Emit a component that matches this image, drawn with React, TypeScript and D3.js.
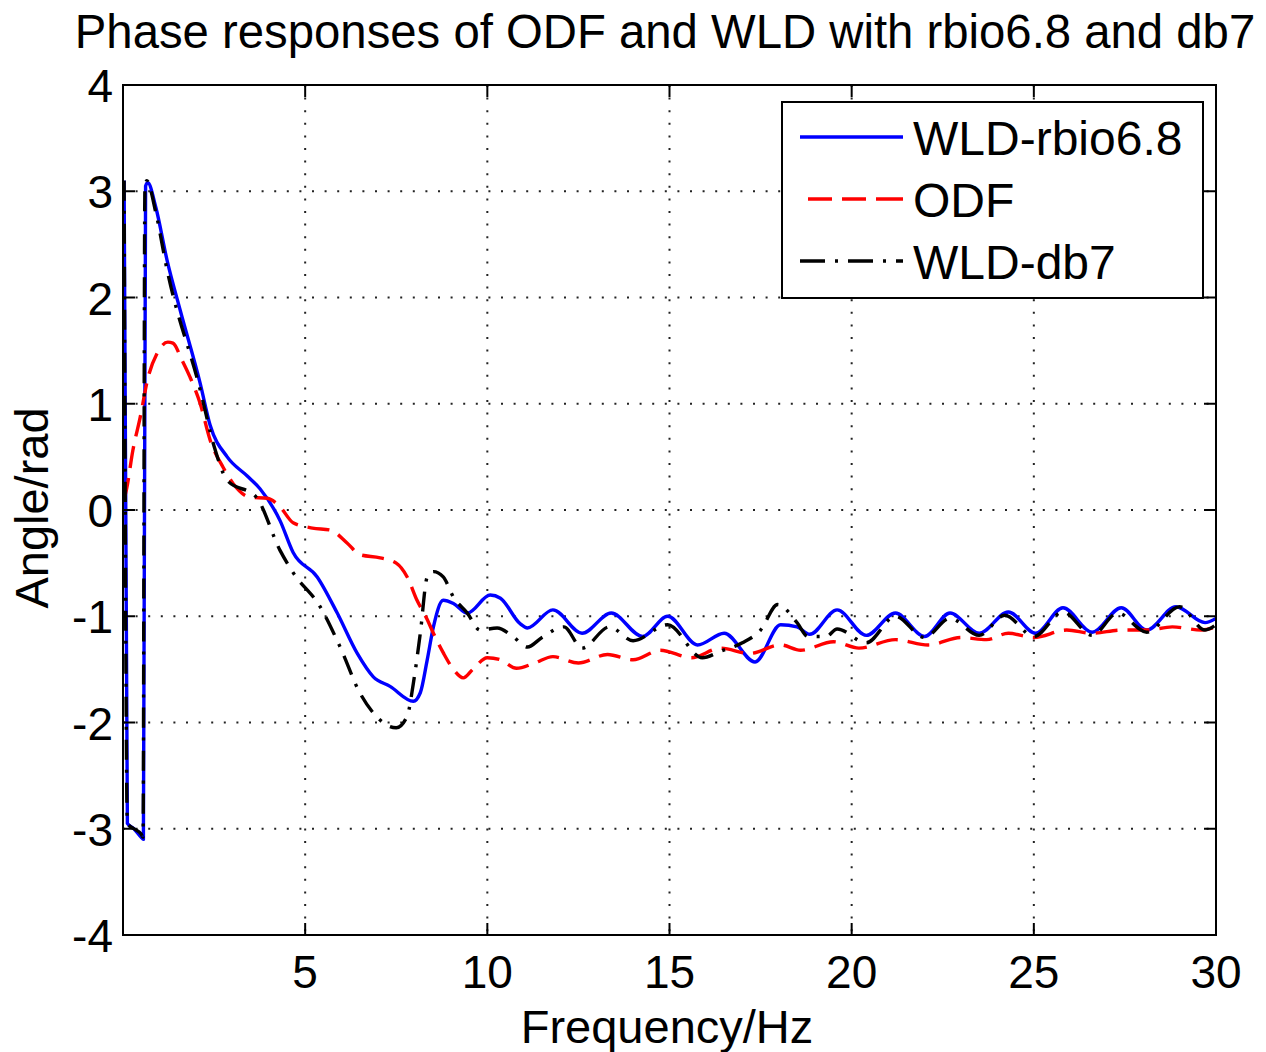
import React from "react";
import * as d3 from "d3";

const xTicks = [5, 10, 15, 20, 25, 30];
const yTicks = [-4, -3, -2, -1, 0, 1, 2, 3, 4];
const gridX = [5, 10, 15, 20, 25];
const gridY = [-3, -2, -1, 0, 1, 2, 3];

const titleText = "Phase responses of ODF and WLD with rbio6.8 and db7";
const xLabel = "Frequency/Hz";
const yLabel = "Angle/rad";

// [frequency, angle]
const wldRbio: [number, number][] = [
  [0.03, 3.1], [0.12, -2.95], [0.3, -3.0], [0.5, -3.08], [0.56, -3.1], [0.62, 3.05], [0.68, 3.08],
  [0.9, 2.85], [1.21, 2.35], [1.57, 1.88], [2.12, 1.19], [2.39, 0.8], [2.86, 0.5], [3.41, 0.32],
  [3.76, 0.2], [4.31, -0.1], [4.67, -0.4], [5.33, -0.63], [5.88, -0.97], [6.43, -1.35], [6.87, -1.57],
  [7.33, -1.66], [7.97, -1.8], [8.16, -1.72], [8.35, -1.41], [8.52, -1.1], [8.79, -0.85], [9.07, -0.88],
  [9.45, -0.97], [10.08, -0.8], [10.36, -0.83], [10.9, -1.07], [11.1, -1.11], [11.8, -0.94], [12.6, -1.16],
  [13.4, -0.97], [14.26, -1.19], [14.95, -1.0], [15.77, -1.27], [16.5, -1.16], [17.35, -1.43],
  [18.05, -1.08], [18.5, -1.1], [18.85, -1.17], [19.6, -0.94], [20.4, -1.18], [21.2, -0.97], [22.0, -1.19],
  [22.7, -0.97], [23.5, -1.16], [24.3, -0.96], [25.05, -1.16], [25.8, -0.92], [26.6, -1.15], [27.4, -0.92],
  [28.1, -1.13], [28.9, -0.91], [29.7, -1.06], [30, -1.02],
];

const odf: [number, number][] = [
  [0.03, 0.1], [0.1, 0.2], [0.27, 0.56], [0.47, 0.87], [0.69, 1.25], [0.93, 1.47], [1.23, 1.58],
  [1.37, 1.57], [1.62, 1.41], [1.84, 1.25], [2.12, 1.0], [2.39, 0.66], [2.75, 0.4], [3.02, 0.25],
  [3.49, 0.12], [3.96, 0.11], [4.31, 0.03], [4.67, -0.12], [5.2, -0.17], [5.7, -0.19], [6.15, -0.31],
  [6.5, -0.42], [7.06, -0.45], [7.5, -0.5], [7.8, -0.63], [8.07, -0.85], [8.35, -1.03], [8.52, -1.16],
  [8.8, -1.35], [9.07, -1.5], [9.34, -1.58], [9.6, -1.5], [10.0, -1.39], [10.36, -1.41], [10.8, -1.49],
  [11.3, -1.44], [11.8, -1.38], [12.5, -1.44], [13.3, -1.36], [14.0, -1.41], [14.75, -1.32], [15.6, -1.39],
  [16.4, -1.3], [17.2, -1.35], [18.05, -1.27], [18.6, -1.32], [19.5, -1.24], [20.2, -1.3], [21.2, -1.22],
  [22.1, -1.27], [23.0, -1.2], [23.7, -1.22], [24.3, -1.16], [25.0, -1.2], [25.9, -1.13], [26.6, -1.16],
  [27.4, -1.13], [28.1, -1.13], [28.8, -1.1], [29.6, -1.13], [30, -1.1],
];

const wldDb7: [number, number][] = [
  [0.03, 3.1], [0.12, -2.95], [0.3, -3.0], [0.5, -3.05], [0.55, -3.08], [0.6, 3.0], [0.65, 3.1],
  [0.9, 2.8], [1.21, 2.26], [2.12, 1.13], [2.5, 0.6], [2.86, 0.28], [3.66, 0.12], [4.31, -0.38],
  [4.67, -0.59], [5.41, -0.91], [5.96, -1.29], [6.5, -1.72], [6.87, -1.91], [7.5, -2.05], [7.8, -1.94],
  [7.97, -1.63], [8.16, -1.16], [8.35, -0.63], [8.52, -0.58], [8.79, -0.63], [9.07, -0.82], [9.45, -0.97],
  [9.8, -1.13], [10.27, -1.11], [10.7, -1.19], [11.1, -1.29], [11.5, -1.2], [12.1, -1.1], [12.6, -1.3],
  [13.35, -1.1], [14.0, -1.23], [14.95, -1.08], [15.9, -1.39], [16.4, -1.33], [17.0, -1.25], [17.5, -1.13],
  [17.97, -0.89], [18.5, -1.06], [18.8, -1.19], [19.3, -1.19], [19.6, -1.12], [20.4, -1.25], [21.2, -1.0],
  [22.0, -1.2], [22.7, -1.02], [23.5, -1.18], [24.2, -0.99], [25.0, -1.19], [25.8, -0.96], [26.6, -1.18],
  [27.3, -0.97], [28.1, -1.15], [29.0, -0.91], [29.7, -1.13], [30, -1.08],
];

const seriesNames = ["WLD-rbio6.8", "ODF", "WLD-db7"];

const W = 1266;
const H = 1052;
const L = 123, R = 1216, T = 85, B = 935;
const FONT = "'Liberation Sans', Arial, Helvetica, sans-serif";

export default function App() {
  const x = d3.scaleLinear().domain([0, 30]).range([L, R]);
  const y = d3.scaleLinear().domain([-4, 4]).range([B, T]);
  const line = d3
    .line<[number, number]>()
    .x((d) => x(d[0]))
    .y((d) => y(d[1]))
    .curve(d3.curveMonotoneX);

  const series = [
    { name: seriesNames[0], data: wldRbio, color: "#0000ff", dash: "none", legDash: "none" },
    { name: seriesNames[1], data: odf, color: "#ff0000", dash: "22,10", legDash: "0,8,24,10,24,10,24" },
    { name: seriesNames[2], data: wldDb7, color: "#000000", dash: "20,10,3,10", legDash: "25,10,3,10" },
  ];

  const tickLen = 12;
  const legX = 782, legY = 102, legW = 421, legH = 196;
  const legRows = [137, 199, 261];

  return (
    <svg
      width={W}
      height={H}
      style={{ position: "absolute", left: 0, top: 0, background: "#fff" }}
      fontFamily={FONT}
    >
      <rect x={0} y={0} width={W} height={H} fill="#fff" />
      <defs>
        <clipPath id="plotclip">
          <rect x={L} y={T} width={R - L} height={B - T} />
        </clipPath>
      </defs>
      {gridX.map((v) => (
        <line key={"gx" + v} x1={x(v)} x2={x(v)} y1={T} y2={B} stroke="#222" strokeWidth={2} strokeDasharray="2,10.6" />
      ))}
      {gridY.map((v) => (
        <line key={"gy" + v} x1={L} x2={R} y1={y(v)} y2={y(v)} stroke="#222" strokeWidth={2} strokeDasharray="2,10.6" />
      ))}
      <g clipPath="url(#plotclip)">
        {series.map((s) => (
          <path
            key={s.name}
            d={line(s.data) || ""}
            fill="none"
            stroke={s.color}
            strokeWidth={3.4}
            strokeDasharray={s.dash}
            strokeLinejoin="round"
          />
        ))}
      </g>
      <rect x={L} y={T} width={R - L} height={B - T} fill="none" stroke="#000" strokeWidth={2} />
      {xTicks.map((v) => (
        <g key={"xt" + v}>
          <line x1={x(v)} x2={x(v)} y1={B} y2={B - tickLen} stroke="#000" strokeWidth={2} />
          <line x1={x(v)} x2={x(v)} y1={T} y2={T + tickLen} stroke="#000" strokeWidth={2} />
          <text x={x(v)} y={988} fontSize={46} textAnchor="middle" fill="#000">
            {v}
          </text>
        </g>
      ))}
      {yTicks.map((v) => (
        <g key={"yt" + v}>
          <line x1={L} x2={L + tickLen} y1={y(v)} y2={y(v)} stroke="#000" strokeWidth={2} />
          <line x1={R} x2={R - tickLen} y1={y(v)} y2={y(v)} stroke="#000" strokeWidth={2} />
          <text x={113} y={y(v) + 17} fontSize={46} textAnchor="end" fill="#000">
            {v}
          </text>
        </g>
      ))}
      <text x={665} y={48} fontSize={47.3} textAnchor="middle" fill="#000">
        {titleText}
      </text>
      <text x={667} y={1043} fontSize={47} textAnchor="middle" fill="#000">
        {xLabel}
      </text>
      <text transform={`translate(48, 508) rotate(-90)`} fontSize={47} textAnchor="middle" fill="#000">
        {yLabel}
      </text>
      <rect x={legX} y={legY} width={legW} height={legH} fill="#fff" stroke="#000" strokeWidth={2} />
      {series.map((s, i) => (
        <g key={"leg" + i}>
          <line
            x1={800}
            x2={903}
            y1={legRows[i]}
            y2={legRows[i]}
            stroke={s.color}
            strokeWidth={3.4}
            strokeDasharray={s.legDash}
          />
          <text x={913} y={legRows[i] + 18} fontSize={48} fill="#000">
            {s.name}
          </text>
        </g>
      ))}
    </svg>
  );
}
